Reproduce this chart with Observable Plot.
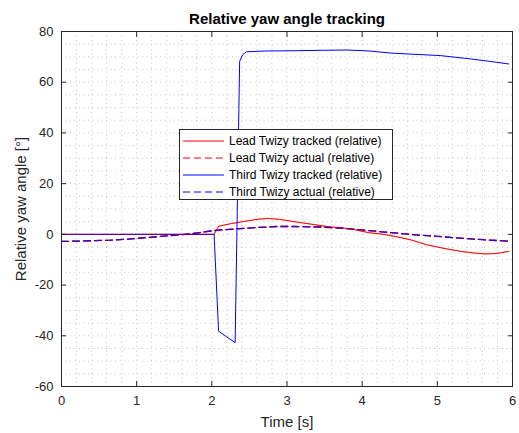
<!DOCTYPE html>
<html>
<head>
<meta charset="utf-8">
<script src="https://cdn.jsdelivr.net/npm/d3@7"></script>
<script src="https://cdn.jsdelivr.net/npm/@observablehq/plot@0.6"></script>
<style>
  html, body { margin: 0; padding: 0; background: #fff; }
  #wrap { position: relative; width: 519px; height: 433px; font-family: "Liberation Sans", Arial, Helvetica, sans-serif; }
  #legend { position: absolute; left: 179px; top: 129px; width: 212px; height: 69px; border: 1px solid #262626; background: #fff; box-sizing: content-box; }
  #legend .row { position: absolute; left: 0; height: 17px; display: flex; align-items: center; font-size: 12px; color: #000; white-space: nowrap; }
  #legend svg { margin-left: 3px; margin-right: 5px; }
</style>
</head>
<body>
<div id="wrap"><div id="chart"></div><div id="legend"></div></div>
<script>
// ---- data ----
const leadTrackedT = [0, 2.03, 2.09, 2.25, 2.43, 2.6, 2.74, 2.9, 3.14, 3.35, 3.53, 3.84, 4.1, 4.24, 4.42, 4.65, 4.86, 5.1, 5.31, 5.47, 5.62, 5.75, 5.84, 5.95];
const leadTrackedV = [0, 0, 3.2, 4.2, 5.1, 5.9, 6.3, 5.9, 4.8, 3.9, 3.1, 2.2, 0.6, 0.2, -0.7, -2.2, -4.1, -5.6, -6.7, -7.3, -7.7, -7.6, -7.3, -6.7];

const actualT = [0, 0.3, 0.65, 1.0, 1.32, 1.72, 2.03, 2.34, 2.6, 2.87, 3.1, 3.45, 3.75, 3.98, 4.3, 4.64, 5.0, 5.31, 5.6, 5.95];
const leadActualV = [-2.8, -2.6, -2.3, -1.6, -0.8, 0.2, 1.5, 2.2, 2.7, 3.1, 3.1, 2.9, 2.4, 1.8, 0.9, 0.0, -0.8, -1.5, -2.1, -2.7];
const thirdActualV = [-2.8, -2.6, -2.3, -1.6, -0.8, 0.2, 1.5, 2.2, 2.7, 3.1, 3.1, 2.9, 2.4, 1.8, 0.9, 0.0, -0.8, -1.5, -2.1, -2.7];

const thirdTrackedT = [0, 2.03, 2.09, 2.31, 2.37, 2.41, 2.46, 2.7, 3.05, 3.5, 3.8, 4.1, 4.38, 4.7, 5.04, 5.44, 5.7, 5.95];
const thirdTrackedV = [0, 0, -38.2, -42.7, 68.3, 70.8, 72.0, 72.3, 72.4, 72.6, 72.7, 72.3, 71.5, 71.0, 70.5, 69.2, 68.2, 67.2];

const xTicks = [0, 1, 2, 3, 4, 5, 6];
const yTicks = [-60, -40, -20, 0, 20, 40, 60, 80];
const xMinor = d3.range(0, 6.0001, 0.2);
const yMinor = d3.range(-60, 80.0001, 5);

const seriesNames = ["Lead Twizy tracked (relative)", "Lead Twizy actual (relative)", "Third Twizy tracked (relative)", "Third Twizy actual (relative)"];
const seriesColors = ["#ff0000", "#ff0000", "#0000ff", "#0000ff"];
const seriesDash = [null, "7,4", null, "7,4"];

const titleText = "Relative yaw angle tracking";
const xLabel = "Time [s]";
const yLabel = "Relative yaw angle [°]";

// ---- build ----
const mk = (T, V) => T.map((t, i) => ({t, v: V[i]}));
const leadTracked = mk(leadTrackedT, leadTrackedV);
const leadActual = mk(actualT, leadActualV);
const thirdTracked = mk(thirdTrackedT, thirdTrackedV);
const thirdActual = mk(actualT, thirdActualV);

const gridStyle = {stroke: "#a0a0a0", strokeOpacity: 0.6, strokeDasharray: "1,3.5"};

const chart = Plot.plot({
  width: 519,
  height: 433,
  marginTop: 31,
  marginRight: 7,
  marginBottom: 47,
  marginLeft: 61,
  style: {fontFamily: '"Liberation Sans", Arial, Helvetica, sans-serif', fontSize: "13px", color: "#262626", background: "#fff"},
  x: {domain: [0, 6]},
  y: {domain: [-60, 80]},
  marks: [
    Plot.gridX(xMinor, gridStyle),
    Plot.gridY(yMinor, gridStyle),
    Plot.line(leadTracked, {x: "t", y: "v", stroke: seriesColors[0], strokeWidth: 1}),
    Plot.line(leadActual, {x: "t", y: "v", stroke: seriesColors[1], strokeWidth: 1.3, strokeDasharray: seriesDash[1]}),
    Plot.line(thirdTracked, {x: "t", y: "v", stroke: seriesColors[2], strokeWidth: 1}),
    Plot.line(thirdActual, {x: "t", y: "v", stroke: seriesColors[3], strokeWidth: 1.3, strokeDasharray: seriesDash[3]}),
    Plot.line(leadTracked, {x: "t", y: "v", stroke: seriesColors[0], strokeWidth: 1, strokeOpacity: 0.3}),
    Plot.line(leadActual, {x: "t", y: "v", stroke: seriesColors[1], strokeWidth: 1.3, strokeDasharray: seriesDash[1], strokeOpacity: 0.25}),
    Plot.frame({stroke: "#262626", strokeWidth: 1}),
    Plot.axisX(xTicks, {anchor: "bottom", tickSize: -5, tickPadding: 14, label: null, fontSize: 13, tickFormat: d => String(d)}),
    Plot.axisX(xTicks, {anchor: "top", tickSize: -5, tickPadding: 0, label: null, tickFormat: () => ""}),
    Plot.axisY(yTicks, {anchor: "left", tickSize: -5, tickPadding: 13, label: null, fontSize: 13, tickFormat: d => String(d)}),
    Plot.axisY(yTicks, {anchor: "right", tickSize: -5, tickPadding: 0, label: null, tickFormat: () => ""}),
    Plot.text([titleText], {text: d => d, frameAnchor: "top", dy: -8, lineAnchor: "bottom", fontWeight: "bold", fontSize: 15, fill: "#000"}),
    Plot.text([xLabel], {text: d => d, frameAnchor: "bottom", dy: 40, lineAnchor: "bottom", textAnchor: "middle", fontSize: 15, fill: "#262626"}),
    Plot.text([yLabel], {text: d => d, frameAnchor: "left", dx: -40, rotate: -90, lineAnchor: "middle", textAnchor: "middle", fontSize: 15, fill: "#262626"})
  ]
});
document.getElementById("chart").appendChild(chart);

// legend
const leg = document.getElementById("legend");
seriesNames.forEach((name, i) => {
  const row = document.createElement("div");
  row.className = "row";
  row.style.top = (2 + i * 17) + "px";
  row.innerHTML = `<svg width="41" height="4"><line x1="0" y1="2" x2="41" y2="2" stroke="${seriesColors[i]}" stroke-width="1" ${seriesDash[i] ? `stroke-dasharray="${seriesDash[i]}"` : ""}/></svg><span>${name}</span>`;
  leg.appendChild(row);
});
</script>
</body>
</html>
